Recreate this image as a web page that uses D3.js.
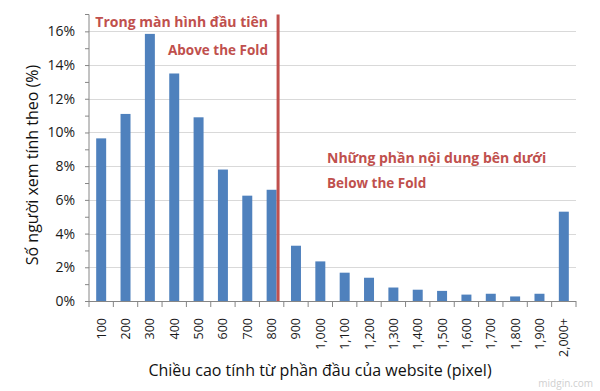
<!DOCTYPE html>
<html><head><meta charset="utf-8">
<script src="https://cdn.jsdelivr.net/npm/d3@7"></script>
<style>body{margin:0;background:#fff}svg{display:block}</style>
</head><body><svg id="c" width="600" height="391"></svg>
<script>
const categories = ["100","200","300","400","500","600","700","800","900","1,000","1,100","1,200","1,300","1,400","1,500","1,600","1,700","1,800","1,900","2,000+"];
const values = [9.65, 11.1, 15.85, 13.5, 10.9, 7.8, 6.25, 6.6, 3.28, 2.35, 1.68, 1.38, 0.8, 0.67, 0.6, 0.38, 0.43, 0.27, 0.43, 5.3];
const yTickValues = [0,2,4,6,8,10,12,14,16];
const foldCategory = "800";
const texts = {
  above1: "Trong màn hình đầu tiên", above2: "Above the Fold",
  below1: "Những phần nội dung bên dưới", below2: "Below the Fold",
  yTitle: "Số người xem tính theo (%)",
  xTitle: "Chiều cao tính từ phần đầu của website (pixel)",
  mark: "midgin.com"
};
const FONT = "'Open Sans', 'Noto Sans', sans-serif";
const svg = d3.select("#c");
const L = 89, R = 576, T = 14.5, B = 301;
const x = d3.scaleBand().domain(categories).range([L, R]).paddingInner(0.59).paddingOuter(0.295);
const xb = d3.scaleBand().domain(categories).range([L, R]);
const y = d3.scaleLinear().domain([0, 17]).range([B, T]);

// gridlines
svg.append("g").selectAll("line").data(yTickValues.filter(d=>d>0)).join("line")
  .attr("x1", L).attr("x2", R).attr("y1", d=>Math.round(y(d))+0.5).attr("y2", d=>Math.round(y(d))+0.5)
  .attr("stroke", "#d9d9d9").attr("stroke-width", 1);

// bars
svg.append("g").selectAll("rect").data(values).join("rect")
  .attr("x", (d,i)=>x(categories[i])).attr("width", x.bandwidth())
  .attr("y", d=>y(d)).attr("height", d=>B - y(d))
  .attr("fill", "#4f81bd");

// y axis
const yAxis = d3.axisLeft(y).tickValues(d3.range(0,18,1)).tickSize(4).tickFormat(d => d%2===0 && d<=16 ? d+"%" : "");
const gy = svg.append("g").attr("transform", `translate(${L},0)`).call(yAxis);
gy.select(".domain").attr("stroke", "#868686").attr("d", `M-4,${T}H0V${B}`);
gy.selectAll(".tick line").attr("stroke", "#868686");
gy.selectAll(".tick text").attr("font-family", FONT).attr("font-size", 14).attr("fill", "#1a1a1a").attr("x", -14);
gy.selectAll(".tick").filter(d=>d===17).select("line").remove();

// x axis
const gx = svg.append("g").attr("transform", `translate(0,${B})`);
gx.append("line").attr("x1", L-4).attr("x2", R).attr("y1", 0.5).attr("y2", 0.5).attr("stroke", "#868686");
gx.selectAll("line.tk").data(categories.concat(["_end"])).join("line").attr("class","tk")
  .attr("x1", (d,i)=> i<categories.length ? xb(d) : R).attr("x2", (d,i)=> i<categories.length ? xb(d) : R)
  .attr("y1", 0).attr("y2", 6).attr("stroke", "#868686");
gx.selectAll("text").data(categories).join("text")
  .attr("transform", d=>`translate(${xb(d)+xb.bandwidth()/2+4.5},17) rotate(-90)`)
  .attr("text-anchor", "end").attr("font-family", FONT).attr("font-size", 12.5).attr("fill", "#1a1a1a")
  .text(d=>d);

// fold line
const foldX = xb(foldCategory) + xb.bandwidth()*0.765;
svg.append("line").attr("x1", foldX).attr("x2", foldX).attr("y1", T).attr("y2", B)
  .attr("stroke", "#c0504d").attr("stroke-width", 3);

// annotations
const red = "#c0504d";
function ann(t, xx, yy, size, anchor){
  svg.append("text").attr("x", xx).attr("y", yy).attr("text-anchor", anchor)
    .attr("font-family", FONT).attr("font-weight", "bold").attr("font-size", size).attr("fill", red).text(t);
}
ann(texts.above1, 268, 27, 14, "end");
ann(texts.above2, 268, 55, 13.5, "end");
ann(texts.below1, 327, 163, 14, "start");
ann(texts.below2, 327, 188, 13.5, "start");

// titles
svg.append("text").attr("transform", `translate(38,165) rotate(-90)`).attr("text-anchor", "middle")
  .attr("font-family", FONT).attr("font-size", 16).attr("fill", "#111").text(texts.yTitle);
svg.append("text").attr("x", 320).attr("y", 376).attr("text-anchor", "middle")
  .attr("font-family", FONT).attr("font-size", 16).attr("fill", "#111").text(texts.xTitle);
svg.append("text").attr("x", 593).attr("y", 387).attr("text-anchor", "end")
  .attr("font-family", FONT).attr("font-size", 10).attr("fill", "#cfcfcf").text(texts.mark);
</script></body></html>
